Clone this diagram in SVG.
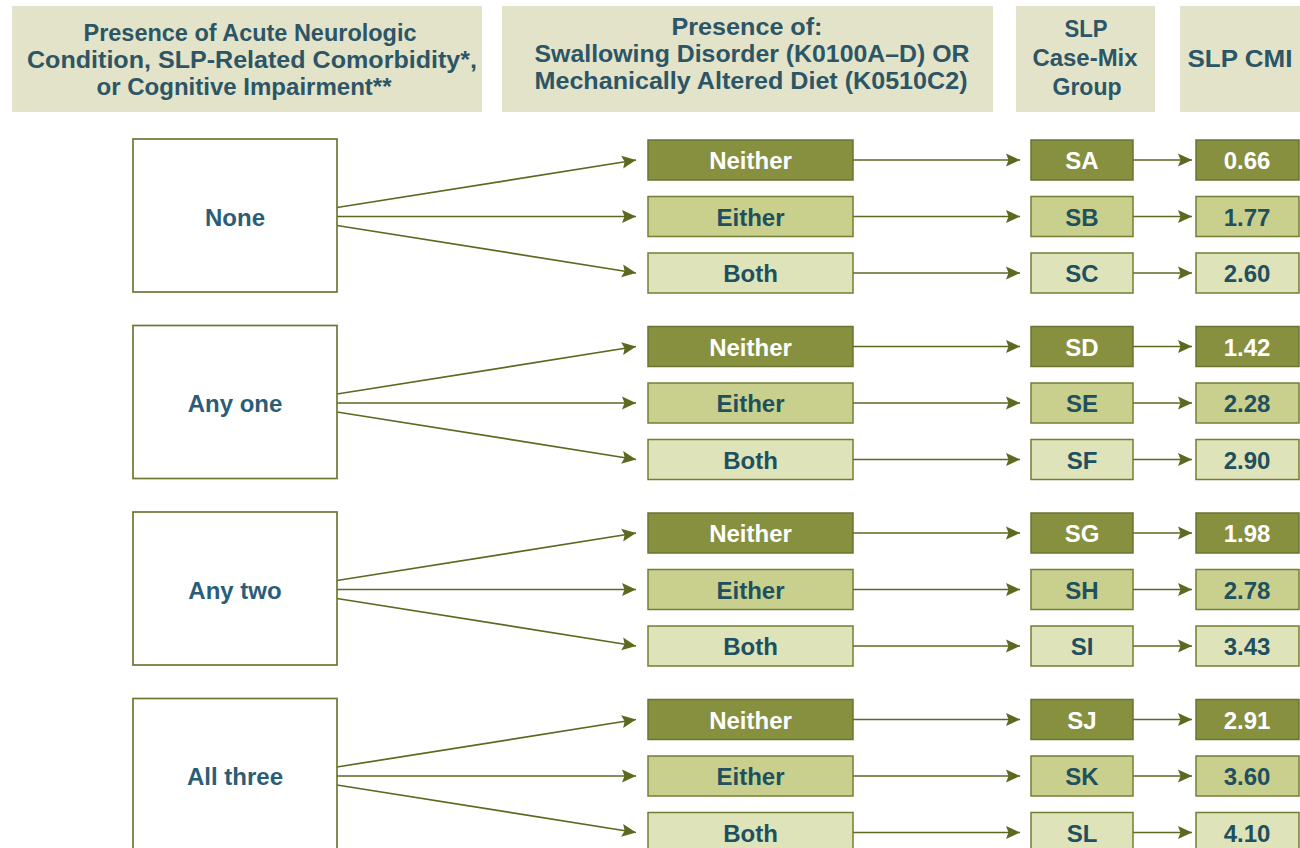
<svg xmlns="http://www.w3.org/2000/svg" width="1300" height="848" viewBox="0 0 1300 848">
<style>
.hdr{fill:#e3e3c9}
.ht{font-family:"Liberation Sans",Arial,sans-serif;font-weight:bold;font-size:23px;fill:#2c5566;text-anchor:middle}
.lb{fill:#ffffff;stroke:#6f7632;stroke-width:1.7}
.lt{font-family:"Liberation Sans",Arial,sans-serif;font-weight:bold;font-size:24px;fill:#2b5d78;text-anchor:middle}
.dk{fill:#87903f;stroke:#6b7430;stroke-width:1.5}
.md{fill:#c9cf8c;stroke:#767e33;stroke-width:1.5}
.li{fill:#dfe3b9;stroke:#767e33;stroke-width:1.5}
.wt{font-family:"Liberation Sans",Arial,sans-serif;font-weight:bold;font-size:24px;fill:#ffffff;text-anchor:middle}
.bt{font-family:"Liberation Sans",Arial,sans-serif;font-weight:bold;font-size:24px;fill:#20505f;text-anchor:middle}
.cn{stroke:#5c6920;stroke-width:1.7;fill:none;marker-end:url(#ah)}
</style>
<defs>
<marker id="ah" markerWidth="15" markerHeight="14" refX="14" refY="7" orient="auto" markerUnits="userSpaceOnUse">
<path d="M0,0.5 L14,7 L0,13.5 L2.5,7 z" fill="#5c6920"/>
</marker>
</defs>
<rect width="1300" height="848" fill="#ffffff"/>

<g id="header1">
<rect class="hdr" x="12" y="6" width="470" height="106"/>
<text class="ht" x="250" y="41" textLength="333" lengthAdjust="spacingAndGlyphs">Presence of Acute Neurologic</text>
<text class="ht" x="252" y="68" textLength="450" lengthAdjust="spacingAndGlyphs">Condition, SLP-Related Comorbidity*,</text>
<text class="ht" x="244" y="95" textLength="295" lengthAdjust="spacingAndGlyphs">or Cognitive Impairment**</text>
</g>
<g id="header2">
<rect class="hdr" x="502" y="6" width="491" height="106"/>
<text class="ht" x="747" y="35" textLength="151" lengthAdjust="spacingAndGlyphs">Presence of:</text>
<text class="ht" x="752" y="62" textLength="435" lengthAdjust="spacingAndGlyphs">Swallowing Disorder (K0100A–D) OR</text>
<text class="ht" x="751" y="89" textLength="433" lengthAdjust="spacingAndGlyphs">Mechanically Altered Diet (K0510C2)</text>
</g>
<g id="header3">
<rect class="hdr" x="1016" y="6" width="139" height="106"/>
<text class="ht" x="1086" y="37" textLength="43" lengthAdjust="spacingAndGlyphs">SLP</text>
<text class="ht" x="1085" y="66" textLength="105" lengthAdjust="spacingAndGlyphs">Case-Mix</text>
<text class="ht" x="1087" y="95" textLength="69" lengthAdjust="spacingAndGlyphs">Group</text>
</g>
<g id="header4">
<rect class="hdr" x="1180" y="6" width="125" height="106"/>
<text class="ht" x="1240" y="67" textLength="105" lengthAdjust="spacingAndGlyphs">SLP CMI</text>
</g>

<g id="connectors">
<!-- group 1 -->
<line class="cn" x1="337" y1="207.5" x2="636" y2="160"/>
<line class="cn" x1="337" y1="216.5" x2="636" y2="216.5"/>
<line class="cn" x1="337" y1="225.5" x2="636" y2="273"/>
<line class="cn" x1="853" y1="160" x2="1020" y2="160"/>
<line class="cn" x1="853" y1="216.5" x2="1020" y2="216.5"/>
<line class="cn" x1="853" y1="273" x2="1020" y2="273"/>
<line class="cn" x1="1133" y1="160" x2="1192" y2="160"/>
<line class="cn" x1="1133" y1="216.5" x2="1192" y2="216.5"/>
<line class="cn" x1="1133" y1="273" x2="1192" y2="273"/>
<!-- group 2 -->
<line class="cn" x1="337" y1="394" x2="636" y2="346.5"/>
<line class="cn" x1="337" y1="403" x2="636" y2="403"/>
<line class="cn" x1="337" y1="412" x2="636" y2="459.5"/>
<line class="cn" x1="853" y1="346.5" x2="1020" y2="346.5"/>
<line class="cn" x1="853" y1="403" x2="1020" y2="403"/>
<line class="cn" x1="853" y1="459.5" x2="1020" y2="459.5"/>
<line class="cn" x1="1133" y1="346.5" x2="1192" y2="346.5"/>
<line class="cn" x1="1133" y1="403" x2="1192" y2="403"/>
<line class="cn" x1="1133" y1="459.5" x2="1192" y2="459.5"/>
<!-- group 3 -->
<line class="cn" x1="337" y1="580.5" x2="636" y2="533"/>
<line class="cn" x1="337" y1="589.5" x2="636" y2="589.5"/>
<line class="cn" x1="337" y1="598.5" x2="636" y2="646"/>
<line class="cn" x1="853" y1="533" x2="1020" y2="533"/>
<line class="cn" x1="853" y1="589.5" x2="1020" y2="589.5"/>
<line class="cn" x1="853" y1="646" x2="1020" y2="646"/>
<line class="cn" x1="1133" y1="533" x2="1192" y2="533"/>
<line class="cn" x1="1133" y1="589.5" x2="1192" y2="589.5"/>
<line class="cn" x1="1133" y1="646" x2="1192" y2="646"/>
<!-- group 4 -->
<line class="cn" x1="337" y1="767" x2="636" y2="719.5"/>
<line class="cn" x1="337" y1="776" x2="636" y2="776"/>
<line class="cn" x1="337" y1="785" x2="636" y2="832.5"/>
<line class="cn" x1="853" y1="719.5" x2="1020" y2="719.5"/>
<line class="cn" x1="853" y1="776" x2="1020" y2="776"/>
<line class="cn" x1="853" y1="832.5" x2="1020" y2="832.5"/>
<line class="cn" x1="1133" y1="719.5" x2="1192" y2="719.5"/>
<line class="cn" x1="1133" y1="776" x2="1192" y2="776"/>
<line class="cn" x1="1133" y1="832.5" x2="1192" y2="832.5"/>
</g>

<!-- left boxes -->
<g id="none"><rect class="lb" x="133" y="139" width="204" height="153"/><text class="lt" x="235" y="225.5">None</text></g>
<g id="anyone"><rect class="lb" x="133" y="325.5" width="204" height="153"/><text class="lt" x="235" y="412">Any one</text></g>
<g id="anytwo"><rect class="lb" x="133" y="512" width="204" height="153"/><text class="lt" x="235" y="598.5">Any two</text></g>
<g id="allthree"><rect class="lb" x="133" y="698.5" width="204" height="153"/><text class="lt" x="235" y="785">All three</text></g>

<!-- group 1 rows -->
<g id="g1-neither"><rect class="dk" x="648" y="140" width="205" height="40"/><text class="wt" x="750.5" y="169">Neither</text></g>
<g id="g1-either"><rect class="md" x="648" y="196.5" width="205" height="40"/><text class="bt" x="750.5" y="225.5">Either</text></g>
<g id="g1-both"><rect class="li" x="648" y="253" width="205" height="40"/><text class="bt" x="750.5" y="282">Both</text></g>
<g id="SA"><rect class="dk" x="1031" y="140" width="102" height="40"/><text class="wt" x="1082" y="169">SA</text></g>
<g id="SB"><rect class="md" x="1031" y="196.5" width="102" height="40"/><text class="bt" x="1082" y="225.5">SB</text></g>
<g id="SC"><rect class="li" x="1031" y="253" width="102" height="40"/><text class="bt" x="1082" y="282">SC</text></g>
<g id="cmi-SA"><rect class="dk" x="1196" y="140" width="103" height="40"/><text class="wt" x="1247" y="169">0.66</text></g>
<g id="cmi-SB"><rect class="md" x="1196" y="196.5" width="103" height="40"/><text class="bt" x="1247" y="225.5">1.77</text></g>
<g id="cmi-SC"><rect class="li" x="1196" y="253" width="103" height="40"/><text class="bt" x="1247" y="282">2.60</text></g>

<!-- group 2 rows -->
<g id="g2-neither"><rect class="dk" x="648" y="326.5" width="205" height="40"/><text class="wt" x="750.5" y="355.5">Neither</text></g>
<g id="g2-either"><rect class="md" x="648" y="383" width="205" height="40"/><text class="bt" x="750.5" y="412">Either</text></g>
<g id="g2-both"><rect class="li" x="648" y="439.5" width="205" height="40"/><text class="bt" x="750.5" y="468.5">Both</text></g>
<g id="SD"><rect class="dk" x="1031" y="326.5" width="102" height="40"/><text class="wt" x="1082" y="355.5">SD</text></g>
<g id="SE"><rect class="md" x="1031" y="383" width="102" height="40"/><text class="bt" x="1082" y="412">SE</text></g>
<g id="SF"><rect class="li" x="1031" y="439.5" width="102" height="40"/><text class="bt" x="1082" y="468.5">SF</text></g>
<g id="cmi-SD"><rect class="dk" x="1196" y="326.5" width="103" height="40"/><text class="wt" x="1247" y="355.5">1.42</text></g>
<g id="cmi-SE"><rect class="md" x="1196" y="383" width="103" height="40"/><text class="bt" x="1247" y="412">2.28</text></g>
<g id="cmi-SF"><rect class="li" x="1196" y="439.5" width="103" height="40"/><text class="bt" x="1247" y="468.5">2.90</text></g>

<!-- group 3 rows -->
<g id="g3-neither"><rect class="dk" x="648" y="513" width="205" height="40"/><text class="wt" x="750.5" y="542">Neither</text></g>
<g id="g3-either"><rect class="md" x="648" y="569.5" width="205" height="40"/><text class="bt" x="750.5" y="598.5">Either</text></g>
<g id="g3-both"><rect class="li" x="648" y="626" width="205" height="40"/><text class="bt" x="750.5" y="655">Both</text></g>
<g id="SG"><rect class="dk" x="1031" y="513" width="102" height="40"/><text class="wt" x="1082" y="542">SG</text></g>
<g id="SH"><rect class="md" x="1031" y="569.5" width="102" height="40"/><text class="bt" x="1082" y="598.5">SH</text></g>
<g id="SI"><rect class="li" x="1031" y="626" width="102" height="40"/><text class="bt" x="1082" y="655">SI</text></g>
<g id="cmi-SG"><rect class="dk" x="1196" y="513" width="103" height="40"/><text class="wt" x="1247" y="542">1.98</text></g>
<g id="cmi-SH"><rect class="md" x="1196" y="569.5" width="103" height="40"/><text class="bt" x="1247" y="598.5">2.78</text></g>
<g id="cmi-SI"><rect class="li" x="1196" y="626" width="103" height="40"/><text class="bt" x="1247" y="655">3.43</text></g>

<!-- group 4 rows -->
<g id="g4-neither"><rect class="dk" x="648" y="699.5" width="205" height="40"/><text class="wt" x="750.5" y="728.5">Neither</text></g>
<g id="g4-either"><rect class="md" x="648" y="756" width="205" height="40"/><text class="bt" x="750.5" y="785">Either</text></g>
<g id="g4-both"><rect class="li" x="648" y="812.5" width="205" height="40"/><text class="bt" x="750.5" y="841.5">Both</text></g>
<g id="SJ"><rect class="dk" x="1031" y="699.5" width="102" height="40"/><text class="wt" x="1082" y="728.5">SJ</text></g>
<g id="SK"><rect class="md" x="1031" y="756" width="102" height="40"/><text class="bt" x="1082" y="785">SK</text></g>
<g id="SL"><rect class="li" x="1031" y="812.5" width="102" height="40"/><text class="bt" x="1082" y="841.5">SL</text></g>
<g id="cmi-SJ"><rect class="dk" x="1196" y="699.5" width="103" height="40"/><text class="wt" x="1247" y="728.5">2.91</text></g>
<g id="cmi-SK"><rect class="md" x="1196" y="756" width="103" height="40"/><text class="bt" x="1247" y="785">3.60</text></g>
<g id="cmi-SL"><rect class="li" x="1196" y="812.5" width="103" height="40"/><text class="bt" x="1247" y="841.5">4.10</text></g>
</svg>
